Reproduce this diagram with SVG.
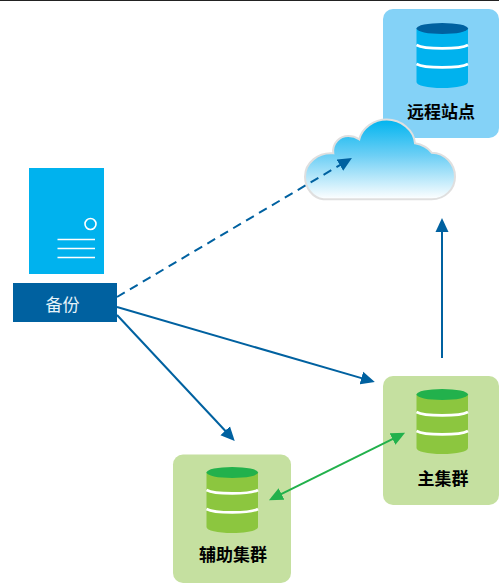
<svg xmlns="http://www.w3.org/2000/svg" width="499" height="583" viewBox="0 0 499 583">
<style>
.lbl{font-family:"Noto Sans CJK SC","Liberation Sans",sans-serif;font-size:17px;font-weight:700;fill:#000;text-anchor:middle}
.band{fill:none;stroke:#fff;stroke-width:2.6}
.blue .body{fill:#00b2ee}.blue .cap{fill:#0061a0}
.green .body{fill:#8cc63f}.green .cap{fill:#22b14c}
.card-b{fill:#84d2f7}.card-g{fill:#c5e0a0}
.conn{fill:none;stroke-width:2}
.sl{stroke:#fff;stroke-width:1.6;fill:none}
</style>
<defs>
<linearGradient id="sky" x1="0" y1="0" x2="0" y2="1"><stop offset="0" stop-color="#00b4ef"/><stop offset="0.45" stop-color="#6dcff5"/><stop offset="1" stop-color="#fff"/></linearGradient>
<marker id="ab" markerUnits="userSpaceOnUse" markerWidth="14" markerHeight="14" viewBox="0 0 14 14" refX="10" refY="7" orient="auto"><path d="M0,0.5 L14,7 L0,13.5 z" fill="#0061a0"/></marker>
<marker id="ag" markerUnits="userSpaceOnUse" markerWidth="14" markerHeight="14" viewBox="0 0 14 14" refX="10" refY="7" orient="auto-start-reverse"><path d="M0,0.5 L14,7 L0,13.5 z" fill="#22b14c"/></marker>
</defs>
<rect width="499" height="583" fill="#fff"/>
<rect x="0" y="0" width="499" height="1" fill="#222"/>
<g id="remote">
<rect class="card-b" x="383" y="9" width="116" height="129" rx="10"/>
<g class="blue" transform="translate(416.5,23)">
<path class="body" d="M0,5.5 V59 C0,62.5 11,65 25.75,65 C40.5,65 51.5,62.5 51.5,59 V5.5 z"/>
<ellipse class="cap" cx="25.75" cy="5.5" rx="25.75" ry="5.5"/>
<path class="band" d="M0,22 C8,26.5 43.5,26.5 51.5,22"/>
<path class="band" d="M0,41 C8,45.5 43.5,45.5 51.5,41"/>
</g>
<text class="lbl" x="441" y="118">远程站点</text>
</g>
<g id="cloud">
<path d="M323.3,199.3 C313,198 305,188 305,176.7 C305,163 318,152 333.3,153.3 C332,143 340,136 348.3,136 C353,136 356.5,137.5 359.3,139.3 C362,128 374,119.5 386.7,119.5 C401,119.5 414,130 415,143.3 C422,144.5 428,148 431.7,152.7 C445,153 455,164 455,176.7 C455,189 445,199.3 431.7,199.3 z" fill="url(#sky)" stroke="#dfdfdf" stroke-width="2"/>
</g>
<g id="backup">
<rect x="29" y="168" width="75" height="106" fill="#00b2ee"/>
<circle class="sl" cx="90.5" cy="224" r="5.5"/>
<path class="sl" d="M57.5,239.5 H95 M57.5,248.5 H95 M57.5,257.5 H95"/>
<rect x="13" y="283" width="104" height="39" fill="#0061a0"/>
<text x="62.5" y="311" text-anchor="middle" fill="#e8f4fa" font-family="'Noto Sans CJK SC','Liberation Sans',sans-serif" font-size="17">备份</text>
</g>
<g id="main">
<rect class="card-g" x="383" y="376" width="116" height="129" rx="10"/>
<g class="green" transform="translate(416.5,389)">
<path class="body" d="M0,5.5 V59 C0,62.5 11,65 25.75,65 C40.5,65 51.5,62.5 51.5,59 V5.5 z"/>
<ellipse class="cap" cx="25.75" cy="5.5" rx="25.75" ry="5.5"/>
<path class="band" d="M0,23 C8,27.5 43.5,27.5 51.5,23"/>
<path class="band" d="M0,42 C8,46.5 43.5,46.5 51.5,42"/>
</g>
<text class="lbl" x="443" y="485">主集群</text>
</g>
<g id="aux">
<rect class="card-g" x="173" y="454.5" width="118" height="128.5" rx="10"/>
<g class="green" transform="translate(206.5,467)">
<path class="body" d="M0,5.5 V60 C0,63.5 11,66 25.75,66 C40.5,66 51.5,63.5 51.5,60 V5.5 z"/>
<ellipse class="cap" cx="25.75" cy="5.5" rx="25.75" ry="5.5"/>
<path class="band" d="M0,23 C8,27.5 43.5,27.5 51.5,23"/>
<path class="band" d="M0,42 C8,46.5 43.5,46.5 51.5,42"/>
</g>
<text class="lbl" x="233" y="561">辅助集群</text>
</g>
<g id="connectors">
<path class="conn" d="M117,297 L348.5,160" stroke="#0061a0" stroke-dasharray="9,6" marker-end="url(#ab)"/>
<path class="conn" d="M442,358 L442,222" stroke="#0061a0" marker-end="url(#ab)"/>
<path class="conn" d="M117,307 L371,380.9" stroke="#0061a0" marker-end="url(#ab)"/>
<path class="conn" d="M117,315 L232,438" stroke="#0061a0" marker-end="url(#ab)"/>
<path class="conn" d="M272.5,498.4 L401.5,434.6" stroke="#22b14c" marker-start="url(#ag)" marker-end="url(#ag)"/>
</g>
</svg>
